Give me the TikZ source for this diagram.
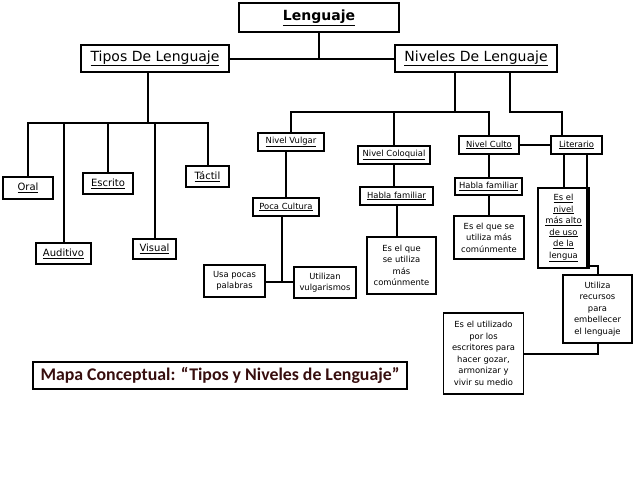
\documentclass[tikz,border=0pt]{standalone}
\usepackage{fontspec}
\setmainfont{DejaVu Sans}
\newfontfamily\titlefont{Carlito}
\definecolor{titlered}{RGB}{55,14,14}
\tikzset{
  bigbox/.style={draw, line width=2pt, inner sep=0pt, font=\fontsize{14}{16}\selectfont},
  midbox/.style={draw, line width=2pt, inner sep=0pt, font=\fontsize{10}{12}\selectfont},
  smallbox/.style={draw, line width=1.8pt, inner sep=0pt, align=center, font=\fontsize{8.4}{11.5}\selectfont},
  link/.style={line width=2pt}
}

\begin{document}
\begin{tikzpicture}[x=1pt, y=-1pt]
    \useasboundingbox (0,0) rectangle (638,479);

    \node[bigbox, minimum width=160, minimum height=29, font=\bfseries\fontsize{14}{16}\selectfont] (lenguaje) at (319,17.5) {\underline{Lenguaje}};
    \node[bigbox, minimum width=148, minimum height=27] (tipos) at (155,58.5) {\underline{Tipos De Lenguaje}};
    \node[bigbox, minimum width=162, minimum height=27] (niveles) at (476,58.5) {\underline{Niveles De Lenguaje}};

    \node[midbox, minimum width=50, minimum height=22] (oral) at (28,188) {\underline{Oral}};
    \node[midbox, minimum width=55, minimum height=21] (auditivo) at (63.5,253.5) {\underline{Auditivo}};
    \node[midbox, minimum width=50, minimum height=21] (escrito) at (108,183.5) {\underline{Escrito}};
    \node[midbox, minimum width=43, minimum height=20] (visual) at (154.5,249) {\underline{Visual}};
    \node[midbox, minimum width=43, minimum height=21] (tactil) at (207.5,176.5) {\underline{Táctil}};

    \node[smallbox, minimum width=66, minimum height=18] (vulgar) at (291,142) {\underline{Nivel Vulgar}};
    \node[smallbox, minimum width=72, minimum height=18] (coloquial) at (394,155) {\underline{Nivel Coloquial}};
    \node[smallbox, minimum width=60, minimum height=18] (culto) at (489,145) {\underline{Nivel Culto}};
    \node[smallbox, minimum width=51, minimum height=18] (literario) at (576.5,145) {\underline{Literario}};

    \node[smallbox, minimum width=66, minimum height=18] (poca) at (286,207) {\underline{Poca Cultura}};
    \node[smallbox, minimum width=61, minimum height=32] (usa) at (234.5,281) {Usa pocas\\palabras};
    \node[smallbox, minimum width=62, minimum height=31] (utilizan) at (325,282.5) {Utilizan\\vulgarismos};

    \node[smallbox, minimum width=73, minimum height=18] (hablacol) at (396.5,196) {\underline{Habla familiar}};
    \node[smallbox, minimum width=69, minimum height=57] (comuncol) at (401.5,265.5) {Es el que\\se utiliza\\más\\comúnmente};

    \node[smallbox, minimum width=67, minimum height=17] (hablacul) at (488.5,186.5) {\underline{Habla familiar}};
    \node[smallbox, minimum width=70, minimum height=43] (comuncul) at (489,237.5) {Es el que se\\utiliza más\\comúnmente};

    \node[smallbox, minimum width=51, minimum height=80] (nivelalto) at (563.5,228) {\underline{Es el}\\\underline{nivel}\\\underline{más alto}\\\underline{de uso}\\\underline{de la}\\\underline{lengua}};
    \node[smallbox, minimum width=69, minimum height=68] (utiliza) at (597.5,309) {Utiliza\\recursos\\para\\embellecer\\el lenguaje};
    \node[smallbox, minimum width=80, minimum height=81] (escritores) at (483.5,353.5) {Es el utilizado\\por los\\escritores para\\hacer gozar,\\armonizar y\\vivir su medio};

    \node[draw, line width=1.4pt, minimum width=374, minimum height=27, inner sep=0pt, text=titlered, font=\titlefont\bfseries\fontsize{17.8}{20}\selectfont] (titulo) at (220,375.5) {Mapa Conceptual: “Tipos y Niveles de Lenguaje”};

    \draw[link] (lenguaje.south) |- (tipos.east);
    \draw[link] (lenguaje.south) |- (niveles.west);

    \coordinate (tj) at (148,123);
    \draw[link] (tj |- tipos.south) -- (tj);
    \draw[link] (oral.north) -- (oral.north |- tj) -- (tactil.north |- tj) -- (tactil.north);
    \foreach \n in {auditivo,escrito,visual} {
        \draw[link] (\n.north) -- (\n.north |- tj);
    }

    \coordinate (nj) at (455,112);
    \draw[link] (nj |- niveles.south) -- (nj);
    \draw[link] (vulgar.north) |- (culto.north |- nj) -- (culto.north);
    \draw[link] (coloquial.north) -- (coloquial.north |- nj);

    \coordinate (lj) at (510,112);
    \draw[link] (lj |- niveles.south) -- (lj) -| ([xshift=-14.5]literario.north);
    \draw[link] (culto) -- (literario);

    \draw[link] (poca.north) -- (poca.north |- vulgar.south);
    \coordinate (pj) at (282,282);
    \draw[link] (pj |- poca.south) -- (pj);
    \draw[link] (usa.east |- pj) -- (utilizan.west |- pj);

    \draw[link] (coloquial.south) -- (coloquial.south |- hablacol.north);
    \draw[link] (hablacol.south) -- (hablacol.south |- comuncol.north);

    \draw[link] (culto.south) -- (culto.south |- hablacul.north);
    \draw[link] (hablacul.south) -- (hablacul.south |- comuncul.north);

    \draw[link] (nivelalto.north) -- (nivelalto.north |- literario.south);
    \coordinate (uj) at (587,266);
    \draw[link] (uj |- literario.south) -- (uj) -| (utiliza.north);

    \coordinate (ej) at (598,354);
    \draw[link] (utiliza.south) -- (utiliza.south |- ej) -- (escritores.east |- ej);
\end{tikzpicture}
\end{document}
